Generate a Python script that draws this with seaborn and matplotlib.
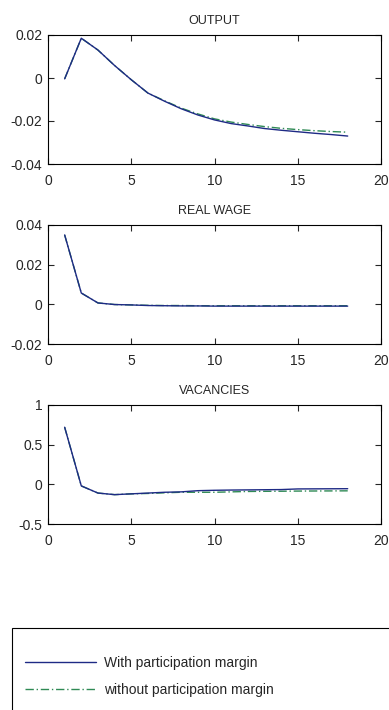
import numpy as np
import pandas as pd
import matplotlib
matplotlib.use("Agg")
import matplotlib.pyplot as plt
import matplotlib.patches as mpatches
import seaborn as sns

periods = list(range(1, 19))

output_with = [-0.0004, 0.0185, 0.013, 0.0058, -0.0008, -0.007, -0.0108, -0.0143, -0.0172,
               -0.0195, -0.0212, -0.0223, -0.0235, -0.0243, -0.025, -0.0257, -0.0263, -0.027]
output_without = [-0.0004, 0.0185, 0.013, 0.0058, -0.0008, -0.007, -0.0106, -0.014, -0.0167,
                  -0.019, -0.0205, -0.0216, -0.0226, -0.0234, -0.024, -0.0245, -0.0249, -0.0252]

wage_with = [0.035, 0.0057, 0.0007, -0.0001, -0.0003, -0.0006, -0.0007, -0.0008, -0.0008,
             -0.0009, -0.0009, -0.0009, -0.0009, -0.0009, -0.0009, -0.0009, -0.0009, -0.0009]
wage_without = [0.035, 0.0057, 0.0007, -0.0001, -0.0003, -0.0005, -0.0006, -0.0006, -0.0007,
                -0.0007, -0.0007, -0.0007, -0.0007, -0.0007, -0.0007, -0.0007, -0.0007, -0.0007]

vac_with = [0.72, -0.02, -0.11, -0.13, -0.12, -0.11, -0.10, -0.095, -0.08, -0.075, -0.072,
            -0.07, -0.068, -0.066, -0.058, -0.057, -0.056, -0.055]
vac_without = [0.72, -0.02, -0.11, -0.13, -0.12, -0.115, -0.107, -0.10, -0.10, -0.10, -0.095,
               -0.09, -0.088, -0.087, -0.085, -0.084, -0.083, -0.082]

titles = ["OUTPUT", "REAL WAGE", "VACANCIES"]
yticks = [[-0.04, -0.02, 0, 0.02], [-0.02, 0, 0.02, 0.04], [-0.5, 0, 0.5, 1]]
yticklabels = [["-0.04", "-0.02", "0", "0.02"], ["-0.02", "0", "0.02", "0.04"], ["-0.5", "0", "0.5", "1"]]
xticks = [0, 5, 10, 15, 20]
series_names = ["With participation margin", "without participation margin"]

sns.set_style("ticks")
plt.rcParams["font.family"] = ["Liberation Sans Narrow", "Liberation Sans", "DejaVu Sans"]

W, H = 389, 710
fig = plt.figure(figsize=(W / 100, H / 100), dpi=100)
fig.patch.set_facecolor("white")

boxes = [(48, 35, 381, 164), (48, 225, 381, 344), (48, 405, 381, 524)]
data = [(output_with, output_without), (wage_with, wage_without), (vac_with, vac_without)]
blue = "#1e2a85"
green = "#2f8a55"

handles = None
for i, ((l, t, r, b), (w, wo)) in enumerate(zip(boxes, data)):
    ax = fig.add_axes([l / W, 1 - b / H, (r - l) / W, (b - t) / H])
    df = pd.DataFrame({
        "t": periods * 2,
        "v": list(w) + list(wo),
        "s": [series_names[0]] * len(periods) + [series_names[1]] * len(periods),
    })
    sns.lineplot(data=df[df.s == series_names[1]], x="t", y="v", ax=ax, color=green,
                 linestyle=(0, (6, 2, 1, 2)), linewidth=1.0, label=series_names[1])
    sns.lineplot(data=df[df.s == series_names[0]], x="t", y="v", ax=ax, color=blue,
                 linewidth=1.0, label=series_names[0])
    if handles is None:
        h, lab = ax.get_legend_handles_labels()
        handles = (h[::-1], lab[::-1])
    ax.get_legend().remove()
    ax.set_xlim(0, 20)
    ax.set_ylim(yticks[i][0], yticks[i][-1])
    ax.set_xticks(xticks)
    ax.set_xticklabels([str(x) for x in xticks])
    ax.set_yticks(yticks[i])
    ax.set_yticklabels(yticklabels[i])
    ax.set_xlabel("")
    ax.set_ylabel("")
    ax.set_title(titles[i], fontsize=9, pad=8)
    ax.tick_params(direction="in", top=True, right=True, labelsize=10, length=4, width=0.8)
    ax.tick_params(axis="x", pad=7)
    ax.tick_params(axis="y", pad=4)
    for sp in ax.spines.values():
        sp.set_visible(True)
        sp.set_color("black")
        sp.set_linewidth(0.8)

# legend box (extends past the bottom/right edges like the reference)
rect = mpatches.Rectangle((12 / W, -0.05), 1.0, (1 - 628 / H) + 0.05,
                          transform=fig.transFigure, fill=False,
                          edgecolor="black", linewidth=0.8)
fig.patches.append(rect)

leg = fig.legend(handles[0], handles[1], loc="upper left",
                 bbox_to_anchor=(25 / W, 1 - 656 / H),
                 frameon=False, fontsize=10,
                 handlelength=5.1, handletextpad=0.6, borderaxespad=0, borderpad=0,
                 labelspacing=0.95)

fig.savefig("out.png", dpi=100, facecolor="white")
